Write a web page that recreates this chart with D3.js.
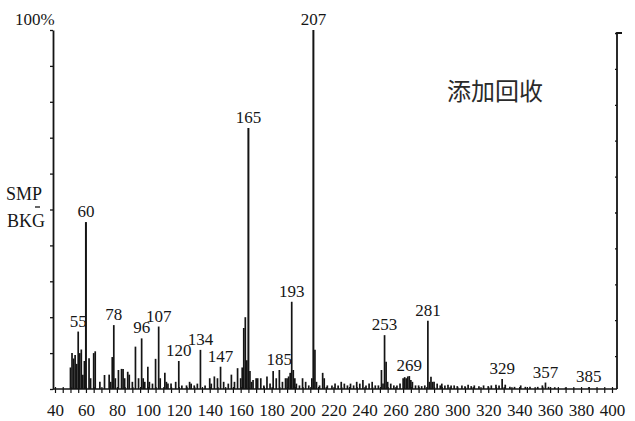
<!DOCTYPE html>
<html>
<head>
<meta charset="utf-8">
<script src="https://cdn.jsdelivr.net/npm/d3@7"></script>
<style>
  html, body { margin: 0; padding: 0; background: #fff; }
  svg { display: block; }
  .serif { font-family: "Liberation Serif", "DejaVu Serif", serif; fill: #161616; }
</style>
</head>
<body>
<svg id="chart" width="635" height="421"></svg>
<script>
// Mass spectrum: m/z values and relative abundance (%)
const mzValues = [
  50, 51, 52, 53, 54, 55, 56, 57, 58, 59, 60, 62, 63, 65, 66, 69, 72, 75, 76, 77,
  78, 79, 81, 83, 84, 85, 87, 88, 90, 92, 94, 96, 97, 98, 100, 101, 103, 105, 107, 108,
  111, 112, 113, 115, 118, 120, 122, 125, 127, 128, 130, 132, 134, 137, 140, 141, 143, 145, 147, 149,
  152, 154, 156, 158, 160, 161, 162, 163, 164, 165, 166, 167, 168, 170, 171, 173, 175, 177, 179, 181,
  183, 185, 187, 189, 190, 191, 192, 193, 194, 195, 196, 198, 200, 202, 204, 206, 207, 208, 209, 211,
  213, 214, 216, 219, 221, 223, 225, 227, 229, 231, 233, 235, 237, 239, 241, 243, 245, 247, 249, 251,
  252, 253, 254, 255, 257, 259, 261, 263, 265, 266, 267, 268, 269, 270, 271, 273, 275, 277, 279, 281,
  282, 283, 284, 285, 287, 289, 290, 292, 294, 296, 298, 300, 303, 305, 307, 309, 311, 314, 317, 320,
  322, 325, 327, 329, 331, 334, 337, 341, 344, 347, 352, 355, 357, 359, 363, 370, 385
];
const abundance = [
  6, 10, 8.5, 9.5, 7, 16, 10, 11, 4, 7.8, 46.5, 8.6, 3, 10, 10.5, 2, 3.9, 4, 2, 8.9,
  17.8, 3, 5.3, 5.6, 5.6, 3, 4.8, 4, 2, 11.8, 3, 14.1, 3, 2, 6.2, 2, 1.5, 8.4, 17.4, 3,
  4.5, 2, 1.5, 1.5, 2, 7.8, 1, 1, 2, 1.5, 1, 1.5, 10.9, 1, 3, 1.5, 3.5, 3, 6.2, 2,
  1.5, 4, 2, 5.8, 3, 6, 17, 20, 8, 72.7, 5, 2, 2.5, 3, 3, 3, 1, 3.5, 1.5, 5,
  3, 5.3, 2, 3, 3, 3.5, 4.5, 24.3, 5.3, 3, 1.5, 1, 3, 2, 1, 3, 100, 10.9, 2, 1,
  4.5, 3, 1, 1, 1.5, 1, 2, 1.5, 1, 1.5, 1, 2, 1.5, 2.5, 1, 1.5, 2, 1, 1, 5.3,
  1.5, 15, 7.6, 2, 1.5, 1, 1, 1.5, 3, 3.3, 3, 3.5, 3.6, 2.5, 2, 1, 1, 0.8, 1, 19,
  2, 3.4, 2, 2, 1.5, 1, 1.5, 1, 1.2, 1, 1, 0.8, 1, 0.8, 1.2, 0.8, 1, 0.8, 1, 0.8,
  1, 1.2, 1, 2.8, 1.2, 0.6, 0.6, 1, 0.6, 0.6, 0.6, 1, 1.8, 0.6, 0.5, 0.4, 0.5
];
// Peaks annotated with their m/z
const labeledPeaks = [55, 60, 78, 96, 107, 120, 134, 147, 165, 185, 193, 207, 253, 269, 281, 329, 357, 385];
// Axis ticks
const xTickLabels = d3.range(40, 401, 20);
const xTickMarks = d3.range(40, 401, 5);
const yTicks = d3.range(0, 101, 10);

const peaks = mzValues.map((mz, i) => ({ mz, value: abundance[i] }));

const svg = d3.select("#chart");
const x = d3.scaleLinear().domain([40, 400]).range([55, 612]);
const y = d3.scaleLinear().domain([0, 100]).range([389, 30]);

const ink = "#141414";

// Baseline
svg.append("line")
  .attr("x1", 53).attr("x2", 617)
  .attr("y1", y(0)).attr("y2", y(0))
  .attr("stroke", ink).attr("stroke-width", 1.6);

// x axis ticks and labels
const xAxis = d3.axisBottom(x)
  .tickValues(xTickMarks)
  .tickSize(4)
  .tickSizeOuter(0)
  .tickFormat(d => (xTickLabels.includes(d) ? d : ""));
const gx = svg.append("g")
  .attr("transform", `translate(0,${y(0)})`)
  .call(xAxis);
gx.select(".domain").remove();
gx.selectAll(".tick line").attr("stroke", ink).attr("stroke-width", 1.2).attr("y1", -2);
gx.selectAll(".tick text")
  .attr("class", "serif")
  .attr("y", 27).attr("dy", 0)
  .style("font-size", "17px")
  .attr("fill", ink);

// Left axis
const gyl = svg.append("g")
  .attr("transform", "translate(53,0)")
  .call(d3.axisLeft(y).tickValues(yTicks).tickSize(3).tickSizeOuter(0).tickFormat(""));
gyl.select(".domain").attr("stroke", ink).attr("stroke-width", 1.8);
gyl.selectAll(".tick line").attr("stroke", ink).attr("stroke-width", 1.3);

// Right axis
const gyr = svg.append("g")
  .attr("transform", "translate(617,3)")
  .call(d3.axisLeft(y).tickValues(yTicks.filter(d => d > 0)).tickSize(2).tickSizeOuter(0).tickFormat(""));
gyr.select(".domain").remove();
gyr.selectAll(".tick line").attr("stroke", ink).attr("stroke-width", 1.3);
svg.append("path")
  .attr("d", `M622,${y(100) + 3}H617V${y(0)}`)
  .attr("fill", "none").attr("stroke", ink).attr("stroke-width", 1.8);

// Peaks
svg.append("g").selectAll("line")
  .data(peaks)
  .join("line")
  .attr("x1", d => x(d.mz)).attr("x2", d => x(d.mz))
  .attr("y1", y(0)).attr("y2", d => y(d.value))
  .attr("stroke", ink)
  .attr("stroke-width", d => (d.value > 40 ? 2 : 1.7));

// Peak labels
svg.append("g").selectAll("text")
  .data(peaks.filter(d => labeledPeaks.includes(d.mz)))
  .join("text")
  .attr("class", "serif")
  .attr("x", d => x(d.mz))
  .attr("y", d => y(d.value) - 5)
  .attr("text-anchor", "middle")
  .style("font-size", "17px")
  .text(d => d.mz);

// Scale and trace annotations
svg.append("text").attr("class", "serif")
  .attr("x", 15).attr("y", 25)
  .style("font-size", "17px").text("100%");
svg.append("text").attr("class", "serif")
  .attr("x", 6).attr("y", 200)
  .style("font-size", "18px").text("SMP");
svg.append("text").attr("class", "serif")
  .attr("x", 7).attr("y", 227)
  .style("font-size", "18px").text("BKG");
svg.append("line")
  .attr("x1", 35).attr("x2", 40).attr("y1", 207).attr("y2", 207)
  .attr("stroke", ink).attr("stroke-width", 1.3);

svg.append("text")
  .attr("x", 447).attr("y", 100)
  .style("font-family", "'Noto Sans CJK SC', sans-serif")
  .style("font-size", "24px")
  .attr("fill", "#2a2a2a")
  .text("添加回收");
</script>
</body>
</html>
